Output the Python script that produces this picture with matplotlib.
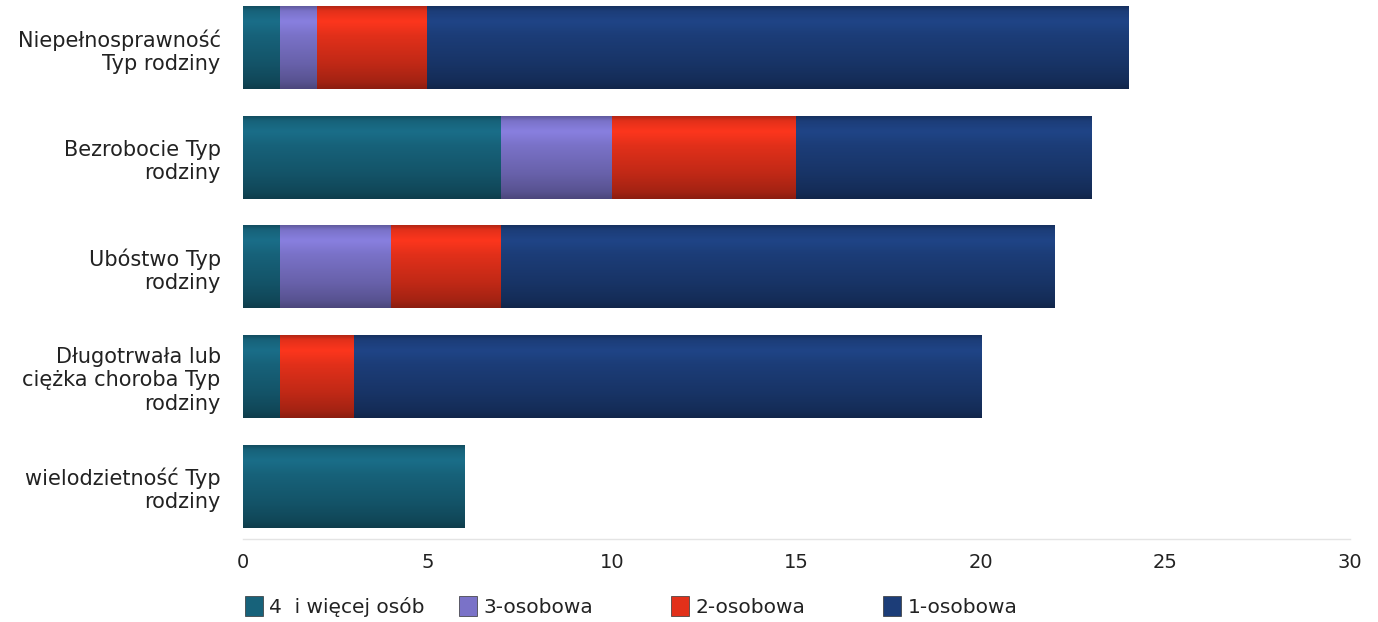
import numpy as np
import matplotlib
matplotlib.use('Agg')
import matplotlib.pyplot as plt
from matplotlib.colors import to_rgb
from matplotlib.patches import Patch

# --- data -----------------------------------------------------------------
categories = [
    "Niepełnosprawność\nTyp rodziny",
    "Bezrobocie Typ\nrodziny",
    "Ubóstwo Typ\nrodziny",
    "Długotrwała lub\nciężka choroba Typ\nrodziny",
    "wielodzietność Typ\nrodziny",
]
series_names = ["4  i więcej osób", "3-osobowa", "2-osobowa", "1-osobowa"]
four_plus = [1, 7, 1, 1, 6]
three = [1, 3, 3, 0, 0]
two = [3, 5, 3, 2, 0]
one = [19, 8, 15, 17, 0]
x_ticks = [0, 5, 10, 15, 20, 25, 30]

# --- style ----------------------------------------------------------------
COLORS = ['#17627a', '#7a72c8', '#e2301a', '#1c3d78']
TEXT_COLOR = '#222222'
BAR_HEIGHT = 0.75

plt.rcParams['font.family'] = ['DejaVu Sans']

fig = plt.figure(figsize=(13.78, 6.22), dpi=100)
ax = fig.add_axes([0.1763, 0.1334, 0.8034, 0.8666])

# vertical shading profile of a bar (top -> bottom), gives the cylinder look
profile = np.interp(np.linspace(0, 1, 64),
                    [0.0, 0.05, 0.18, 0.35, 0.7, 0.92, 1.0],
                    [0.8, 1.0, 1.12, 1.0, 0.85, 0.72, 0.62])


def shade_bar(rect, color):
    x0, y0 = rect.get_x(), rect.get_y()
    w, h = rect.get_width(), rect.get_height()
    if w <= 0:
        return
    base = np.array(to_rgb(color))
    img = np.clip(base[None, :] * profile[:, None], 0, 1)
    img = img[:, None, :]
    # y axis is inverted, so the top of the bar is y0
    ax.imshow(img, extent=(x0, x0 + w, y0 + h, y0), aspect='auto',
              interpolation='bicubic', zorder=3)


y = np.arange(len(categories))
left = np.zeros(len(categories))
for vals, color in zip([four_plus, three, two, one], COLORS):
    bars = ax.barh(y, vals, left=left, height=BAR_HEIGHT, color=color,
                   edgecolor='none', zorder=2)
    for rect in bars:
        shade_bar(rect, color)
    left += np.array(vals)

ax.set_xlim(0, 30)
ax.set_ylim(4.48, -0.44)
ax.set_xticks(x_ticks)
ax.set_xticklabels([str(t) for t in x_ticks])
ax.set_yticks(y)
ax.set_yticklabels(categories, ha='right', multialignment='right')

ax.tick_params(axis='both', length=0, colors=TEXT_COLOR)
ax.tick_params(axis='x', pad=10, labelsize=14)
ax.tick_params(axis='y', pad=16, labelsize=15)

for side in ['top', 'right', 'left']:
    ax.spines[side].set_visible(False)
ax.spines['bottom'].set_color('#e4e4e4')
ax.spines['bottom'].set_linewidth(1.0)

# legend: Excel-like equally spaced entries
legend_x = [0.178, 0.333, 0.487, 0.641]
for name, color, lx in zip(series_names, COLORS, legend_x):
    fig.legend(handles=[Patch(facecolor=color, edgecolor='#333333', linewidth=0.5)],
               labels=[name], loc='center left', bbox_to_anchor=(lx, 0.025),
               frameon=False, fontsize=14.5, handlelength=0.9, handleheight=1.1,
               handletextpad=0.3, borderpad=0, borderaxespad=0,
               labelcolor=TEXT_COLOR)

fig.savefig('out.png', dpi=100, facecolor='white')
